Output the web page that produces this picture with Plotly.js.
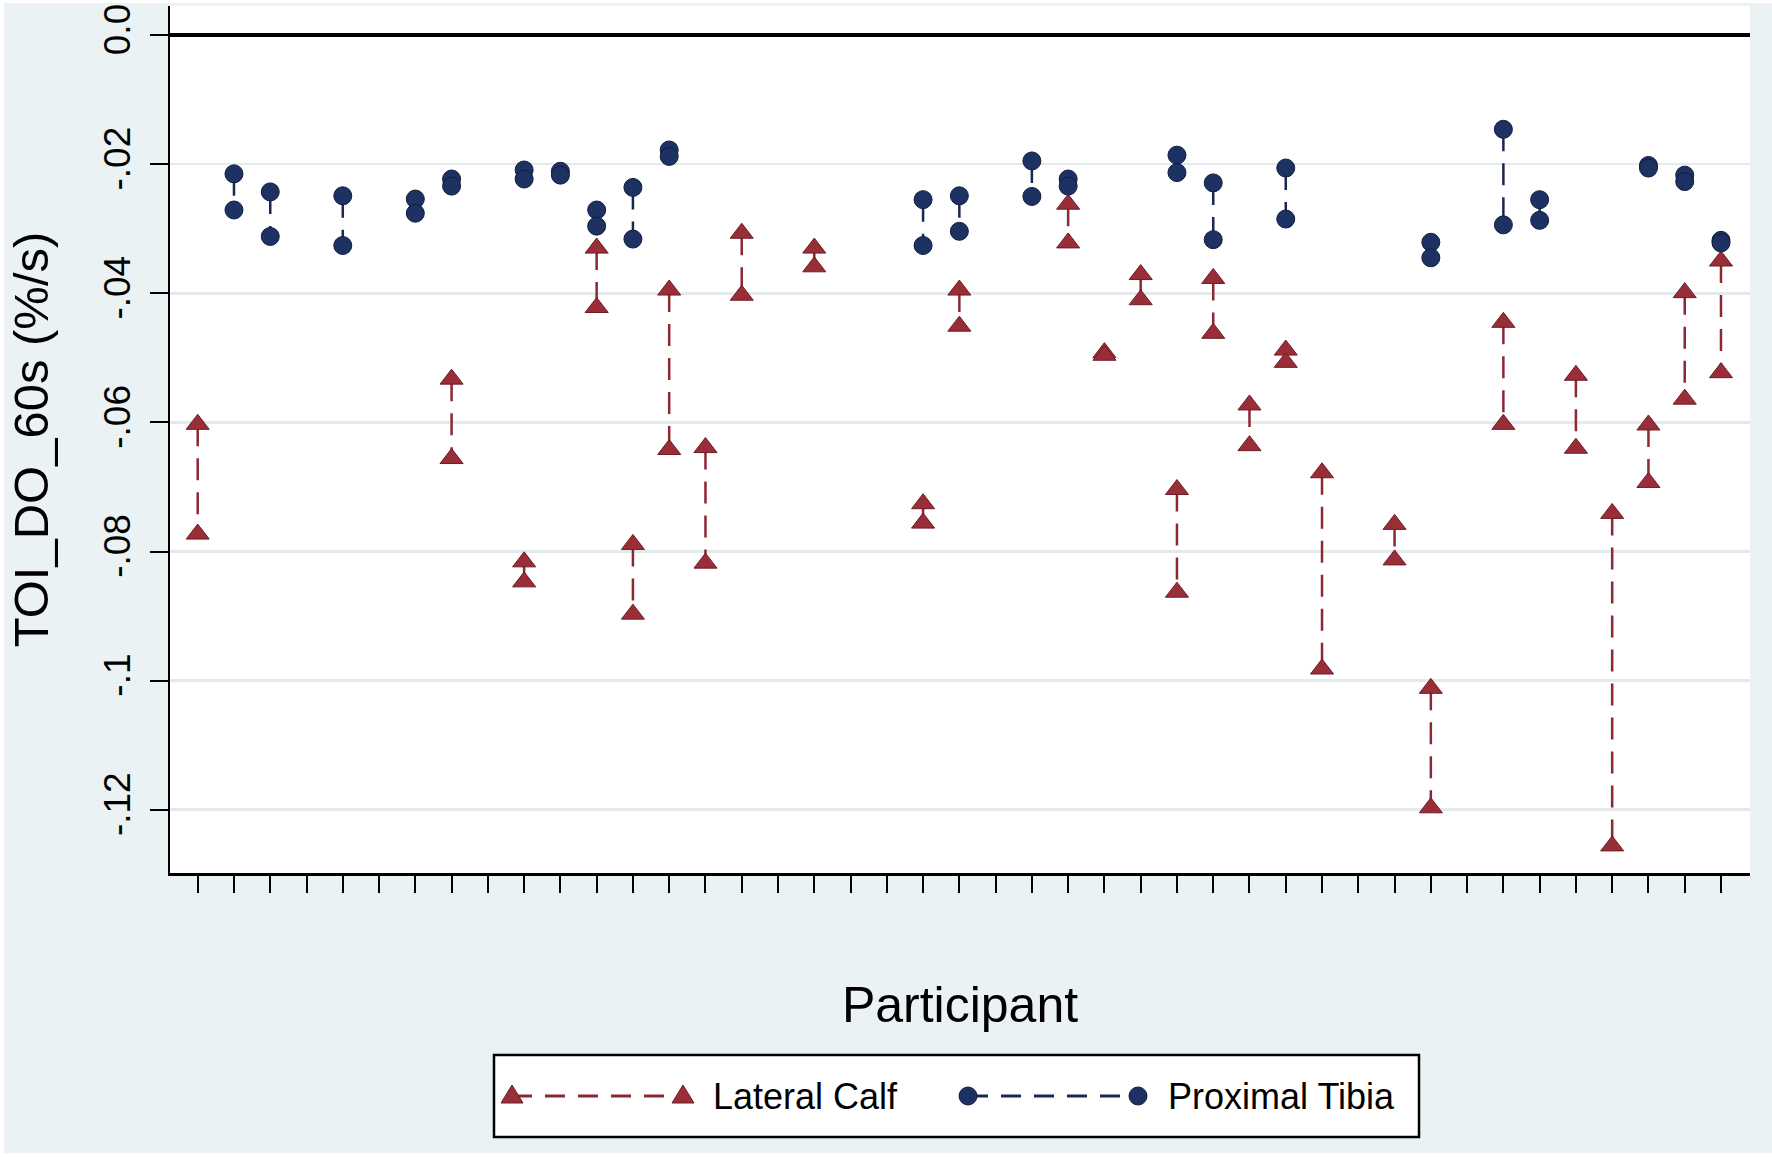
<!DOCTYPE html>
<html>
<head>
<meta charset="utf-8">
<script src="https://cdn.plot.ly/plotly-3.0.1.min.js"></script>
<style>
html,body{margin:0;padding:0;background:#ffffff;}
#chart{position:absolute;left:4px;top:3px;width:1768px;height:1150px;}
</style>
</head>
<body>
<div id="chart"></div>
<script>
// ---------------- data ----------------
const participants = [1,2,3,4,5,6,7,8,9,10,11,12,13,14,15,16,17,18,19,20,21,22,23,24,25,26,27,28,29,30,31,32,33,34,35,36,37,38,39,40,41,42,43];

const lateralCalfA = [-0.0603,null,null,null,null,null,null,-0.0533,null,-0.0816,null,-0.0330,-0.0789,-0.0395,-0.0639,-0.0307,null,-0.0330,null,null,-0.0726,-0.0395,null,null,-0.0262,-0.0492,-0.0371,-0.0704,-0.0377,-0.0573,-0.0488,-0.0678,null,-0.0758,-0.1012,null,-0.0445,null,-0.0527,-0.0741,-0.0604,-0.0399,-0.0350];
const lateralCalfB = [-0.0773,null,null,null,null,null,null,-0.0656,null,-0.0847,null,-0.0422,-0.0897,-0.0642,-0.0818,-0.0403,null,-0.0359,null,null,-0.0756,-0.0451,null,null,-0.0322,-0.0496,-0.0410,-0.0863,-0.0462,-0.0636,-0.0507,-0.0982,null,-0.0813,-0.1197,null,-0.0603,null,-0.0640,-0.1256,-0.0693,-0.0564,-0.0523];

const proximalTibiaA = [null,-0.0215,-0.0243,null,-0.0249,null,-0.0254,-0.0223,null,-0.0209,-0.0211,-0.0271,-0.0236,-0.0178,null,null,null,null,null,null,-0.0255,-0.0249,null,-0.0195,-0.0223,null,null,-0.0186,-0.0229,null,-0.0206,null,null,null,-0.0321,null,-0.0146,-0.0255,null,null,-0.0202,-0.0217,-0.0318];
const proximalTibiaB = [null,-0.0271,-0.0312,null,-0.0326,null,-0.0276,-0.0234,null,-0.0223,-0.0217,-0.0296,-0.0316,-0.0188,null,null,null,null,null,null,-0.0326,-0.0304,null,-0.0250,-0.0234,null,null,-0.0213,-0.0317,null,-0.0285,null,null,null,-0.0345,null,-0.0294,-0.0287,null,null,-0.0206,-0.0227,-0.0322];

const seriesNames = ['Lateral Calf', 'Proximal Tibia'];
const yTickValues = [0, -0.02, -0.04, -0.06, -0.08, -0.1, -0.12];
const yTickLabels = ['0.0', '-.02', '-.04', '-.06', '-.08', '-.1', '-.12'];
const xTitle = 'Participant';
const yTitle = 'TOI_DO_60s (%/s)';

// ---------------- styling ----------------
const FONT = 'Liberation Sans, Arial, Helvetica, sans-serif';
const calfFill = '#9a2e38', calfEdge = '#6e1c25', calfLine = '#8a2833';
const tibFill = '#1d3263', tibEdge = '#111d3d', tibLine = '#1a2850';

// connect the two readings of each participant, breaking between participants
function pairedSegments(a, b) {
  const x = [], y = [];
  participants.forEach((p, i) => {
    const vals = [a[i], b[i]].filter(v => v !== null);
    if (!vals.length) return;
    vals.forEach(v => { x.push(p); y.push(v); });
    x.push(null); y.push(null);
  });
  return {x, y};
}

const calf = pairedSegments(lateralCalfA, lateralCalfB);
const tib = pairedSegments(proximalTibiaA, proximalTibiaB);

const traces = [
  {
    type: 'scatter', mode: 'lines+markers', name: seriesNames[0],
    x: calf.x, y: calf.y, connectgaps: false, showlegend: false,
    line: {color: calfLine, width: 2.5, dash: '22px,12px'},
    marker: {symbol: 'triangle-up', size: 20, color: calfFill, line: {color: calfEdge, width: 1}},
    hoverinfo: 'x+y+name'
  },
  {
    type: 'scatter', mode: 'lines+markers', name: seriesNames[1],
    x: tib.x, y: tib.y, connectgaps: false, showlegend: false,
    line: {color: tibLine, width: 2.5, dash: '22px,12px'},
    marker: {symbol: 'circle', size: 18, color: tibFill, line: {color: tibEdge, width: 1}},
    hoverinfo: 'x+y+name'
  }
];

// ---------------- legend box (layout decoration, pixel helpers) ----------------
const PL = 170, PR = 1750, PT = 6, PB = 873;           // plot area in page pixels
const px = X => (X - PL) / (PR - PL);
const py = Y => (PB - Y) / (PB - PT);

function triPath(cx, cy) {
  const hw = 11, up = 11, dn = 7;
  return 'M' + px(cx - hw) + ',' + py(cy + dn) + ' L' + px(cx + hw) + ',' + py(cy + dn) +
         ' L' + px(cx) + ',' + py(cy - up) + ' Z';
}
function circ(cx, cy, r) {
  return {type: 'circle', xref: 'paper', yref: 'paper',
    x0: px(cx - r), x1: px(cx + r), y0: py(cy + r), y1: py(cy - r),
    fillcolor: tibFill, line: {color: tibEdge, width: 1}};
}
const rowY = 1096;
const shapes = [
  {type: 'rect', xref: 'paper', yref: 'paper', x0: px(494), x1: px(1419), y0: py(1137), y1: py(1055),
   fillcolor: '#ffffff', line: {color: '#000000', width: 2.5}, layer: 'above'},
  {type: 'line', xref: 'paper', yref: 'paper', x0: px(512), x1: px(683), y0: py(rowY), y1: py(rowY),
   line: {color: calfLine, width: 3, dash: '20px,13px'}},
  {type: 'path', xref: 'paper', yref: 'paper', path: triPath(512, rowY), fillcolor: calfFill, line: {color: calfEdge, width: 1}},
  {type: 'path', xref: 'paper', yref: 'paper', path: triPath(683, rowY), fillcolor: calfFill, line: {color: calfEdge, width: 1}},
  {type: 'line', xref: 'paper', yref: 'paper', x0: px(968), x1: px(1138), y0: py(rowY), y1: py(rowY),
   line: {color: tibLine, width: 3, dash: '20px,13px'}},
  circ(968, rowY, 9),
  circ(1138, rowY, 9)
];
const annotations = [
  {xref: 'paper', yref: 'paper', x: px(711), y: py(rowY), xanchor: 'left', yanchor: 'middle',
   text: seriesNames[0], showarrow: false, font: {family: FONT, size: 36, color: '#000000'}},
  {xref: 'paper', yref: 'paper', x: px(1166), y: py(rowY), xanchor: 'left', yanchor: 'middle',
   text: seriesNames[1], showarrow: false, font: {family: FONT, size: 36, color: '#000000'}}
];

const layout = {
  width: 1768, height: 1150,
  margin: {l: 166, r: 22, t: 3, b: 280, pad: 0},
  paper_bgcolor: '#eaf2f3',
  plot_bgcolor: '#ffffff',
  font: {family: FONT, color: '#000000'},
  showlegend: false,
  xaxis: {
    range: [0.236, 43.8], tickmode: 'array', tickvals: participants, showticklabels: false,
    ticks: 'outside', ticklen: 17, tickwidth: 2, tickcolor: '#000000',
    showline: true, linecolor: '#000000', linewidth: 2.5,
    showgrid: false, zeroline: false, fixedrange: true,
    title: {text: xTitle, font: {family: FONT, size: 50, color: '#000000'}, standoff: 96}
  },
  yaxis: {
    range: [-0.1298, 0.0045], tickmode: 'array', tickvals: yTickValues, ticktext: yTickLabels,
    tickangle: -90, tickfont: {family: FONT, size: 37, color: '#000000'},
    ticks: 'outside', ticklen: 18, tickwidth: 2, tickcolor: '#000000', ticklabelstandoff: 5,
    showline: true, linecolor: '#000000', linewidth: 2.5,
    showgrid: true, gridcolor: '#e4eaec', gridwidth: 2.5,
    zeroline: true, zerolinecolor: '#000000', zerolinewidth: 4, fixedrange: true,
    title: {text: yTitle, font: {family: FONT, size: 49, color: '#000000'}, standoff: 40}
  },
  shapes: shapes,
  annotations: annotations
};

Plotly.newPlot('chart', traces, layout, {displayModeBar: false, staticPlot: true});
</script>
</body>
</html>
